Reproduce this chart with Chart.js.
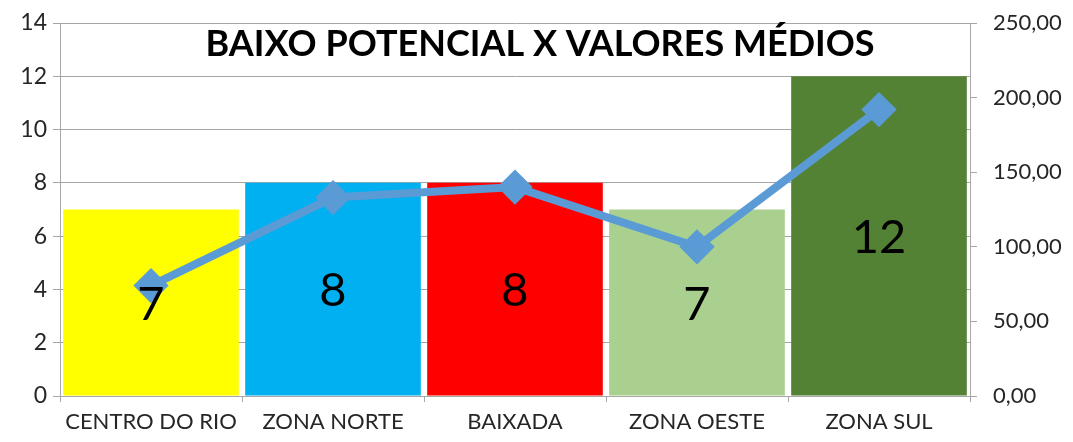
<!DOCTYPE html>
<html lang="pt">
<head>
  <meta charset="UTF-8">
  <title>Baixo potencial x valores médios</title>
  <script src="https://cdn.jsdelivr.net/npm/chart.js"></script>
  <style>
    html, body { margin: 0; padding: 0; background: #fff; }
    #wrap { width: 1073px; height: 442px; }
  </style>
</head>
<body>
<div id="wrap"><canvas id="chart"></canvas></div>
<script>
const regioes = ['CENTRO DO RIO', 'ZONA NORTE', 'BAIXADA', 'ZONA OESTE', 'ZONA SUL'];
const quantidade = [7, 8, 8, 7, 12];
const valoresMedios = [74, 133, 140, 100, 192];
const coresBarras = ['#ffff00', '#00b0f0', '#ff0000', '#a9d08e', '#548235'];
const titulo = 'BAIXO POTENCIAL X VALORES MÉDIOS';

const fonte = 'Lato, "Open Sans", sans-serif';
const cinza = '#a6a6a6';

// rótulos dentro das barras + título sobre a área do gráfico
const extras = {
  id: 'extras',
  afterDraw(chart) {
    const ctx = chart.ctx;
    ctx.save();
    ctx.fillStyle = '#000';
    ctx.textAlign = 'center';
    ctx.textBaseline = 'middle';
    ctx.font = '47px ' + fonte;
    chart.getDatasetMeta(1).data.forEach((bar, i) => {
      ctx.fillText(quantidade[i], bar.x, (bar.y + bar.base) / 2 + 2);
    });
    ctx.font = 'bold 36px ' + fonte;
    ctx.fillText(titulo, 540, 44);
    ctx.restore();
  }
};

new Chart(document.getElementById('chart'), {
  data: {
    labels: regioes,
    datasets: [
      {
        type: 'line',
        data: valoresMedios,
        yAxisID: 'y2',
        borderColor: '#5b9bd5',
        backgroundColor: '#5b9bd5',
        borderWidth: 8,
        pointStyle: 'rectRot',
        pointRadius: 12,
        pointHoverRadius: 12,
        tension: 0,
        order: 0
      },
      {
        type: 'bar',
        data: quantidade,
        yAxisID: 'y',
        backgroundColor: coresBarras,
        barPercentage: 0.965,
        categoryPercentage: 1,
        order: 1
      }
    ]
  },
  options: {
    responsive: true,
    maintainAspectRatio: false,
    animation: false,
    layout: { padding: { top: 23, left: 0, right: 0, bottom: 0 } },
    plugins: {
      legend: { display: false },
      tooltip: { enabled: false }
    },
    scales: {
      x: {
        offset: true,
        grid: { offset: true, drawOnChartArea: false, color: cinza, tickLength: 6 },
        border: { color: cinza },
        ticks: { color: '#262626', font: { family: fonte, size: 22 }, padding: 7, maxRotation: 0 },
        afterFit(s) { s.height = 46; }
      },
      y: {
        position: 'left',
        min: 0, max: 14,
        ticks: { stepSize: 2, color: '#262626', font: { family: fonte, size: 23 }, padding: 6 },
        grid: { color: cinza, tickLength: 7 },
        border: { color: cinza },
        afterFit(s) { s.width = 60; s.paddingTop = 0; s.paddingBottom = 0; }
      },
      y2: {
        position: 'right',
        min: 0, max: 250,
        ticks: {
          stepSize: 50, color: '#262626', font: { family: fonte, size: 22 }, padding: 16,
          callback: v => v.toFixed(2).replace('.', ',')
        },
        grid: { drawOnChartArea: false, color: cinza, tickLength: 7 },
        border: { color: cinza },
        afterFit(s) { s.width = 103; s.paddingTop = 0; s.paddingBottom = 0; }
      }
    }
  },
  plugins: [extras]
});
</script>
</body>
</html>
